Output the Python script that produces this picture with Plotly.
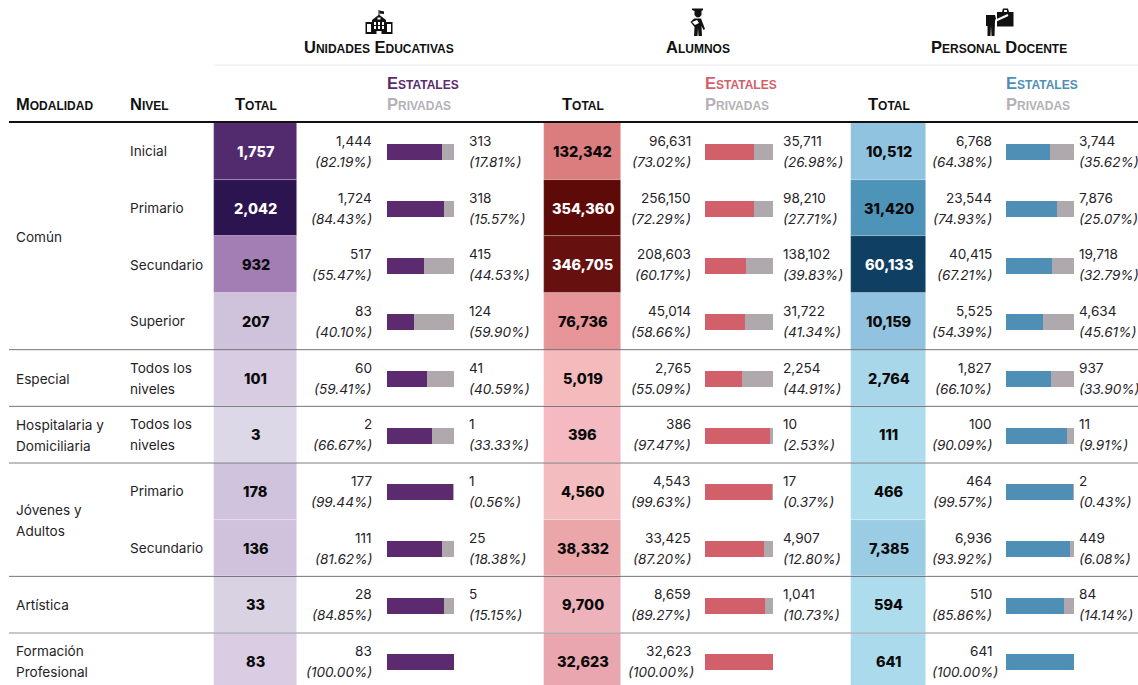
import plotly.graph_objects as go

modalidad = [("Común", 0, 4), ("Especial", 4, 5), ("Hospitalaria y<br>Domiciliaria", 5, 6),
             ("Jóvenes y<br>Adultos", 6, 8), ("Artística", 8, 9), ("Formación<br>Profesional", 9, 10)]
nivel = ["Inicial", "Primario", "Secundario", "Superior", "Todos los<br>niveles", "Todos los<br>niveles",
         "Primario", "Secundario", "", ""]

ue_total = [1757, 2042, 932, 207, 101, 3, 178, 136, 33, 83]
ue_est = [1444, 1724, 517, 83, 60, 2, 177, 111, 28, 83]
ue_est_pct = [82.19, 84.43, 55.47, 40.10, 59.41, 66.67, 99.44, 81.62, 84.85, 100.00]
ue_priv = [313, 318, 415, 124, 41, 1, 1, 25, 5, None]
ue_priv_pct = [17.81, 15.57, 44.53, 59.90, 40.59, 33.33, 0.56, 18.38, 15.15, None]

al_total = [132342, 354360, 346705, 76736, 5019, 396, 4560, 38332, 9700, 32623]
al_est = [96631, 256150, 208603, 45014, 2765, 386, 4543, 33425, 8659, 32623]
al_est_pct = [73.02, 72.29, 60.17, 58.66, 55.09, 97.47, 99.63, 87.20, 89.27, 100.00]
al_priv = [35711, 98210, 138102, 31722, 2254, 10, 17, 4907, 1041, None]
al_priv_pct = [26.98, 27.71, 39.83, 41.34, 44.91, 2.53, 0.37, 12.80, 10.73, None]

pd_total = [10512, 31420, 60133, 10159, 2764, 111, 466, 7385, 594, 641]
pd_est = [6768, 23544, 40415, 5525, 1827, 100, 464, 6936, 510, 641]
pd_est_pct = [64.38, 74.93, 67.21, 54.39, 66.10, 90.09, 99.57, 93.92, 85.86, 100.00]
pd_priv = [3744, 7876, 19718, 4634, 937, 11, 2, 449, 84, None]
pd_priv_pct = [35.62, 25.07, 32.79, 45.61, 33.90, 9.91, 0.43, 6.08, 14.14, None]

ue_cell = ["#522A6E", "#2B1450", "#A27EB4", "#CFC3DB", "#D8CCE3", "#DDD8E8", "#CFC3DD", "#D0C2DC", "#D8D2E3", "#D9CCE3"]
al_cell = ["#DB7C7F", "#5E0A08", "#66100F", "#E89599", "#F4BABC", "#F4B9C1", "#F3BCBF", "#EBA6AA", "#EEB2BB", "#E9A6AE"]
pd_cell = ["#90C3DF", "#4E93B8", "#0F3F62", "#91C2DF", "#A9D7EA", "#ADDCED", "#ADDCED", "#9ACDE3", "#ADDCED", "#AADAEC"]
PRIV = "#AFA8AD"

groups = [
    dict(title="Unidades Educativas", title_x=379, cell_x=214, cell_w=83, num_r=372, full_r=372, bar_x=387, bar_w=67,
         priv_x=469, total=ue_total, est=ue_est, est_pct=ue_est_pct, priv=ue_priv, priv_pct=ue_priv_pct,
         cells=ue_cell, color="#5C2A6F", dark_from=1700),
    dict(title="Alumnos", title_x=698, cell_x=544, cell_w=77, num_r=691, full_r=693.5, bar_x=705, bar_w=67.5,
         priv_x=782.5, total=al_total, est=al_est, est_pct=al_est_pct, priv=al_priv, priv_pct=al_priv_pct,
         cells=al_cell, color="#D2606B", dark_from=300000),
    dict(title="Personal Docente", title_x=999, cell_x=851, cell_w=75, num_r=992, full_r=997.5, bar_x=1006, bar_w=68,
         priv_x=1079, total=pd_total, est=pd_est, est_pct=pd_est_pct, priv=pd_priv, priv_pct=pd_priv_pct,
         cells=pd_cell, color="#4F8FB5", dark_from=50000),
]

TOP, ROW_H, BAR_H = 123.0, 56.67, 16
n = len(nivel)
centers = [TOP + ROW_H * (i + 0.5) for i in range(n)]
BODY = "Inter"
HEAD = "Liberation Sans"
INK = "#1f2328"
BODY_SIZE = 13.6
HEAD_SIZE = 16.5

fig = go.Figure()
ann = []


def text(x, y, s, anchor="left", size=BODY_SIZE, color=INK, family=BODY, weight=400, style="normal", variant="normal"):
    ann.append(dict(x=x, y=y, xref="x", yref="y", text=s, showarrow=False, xanchor=anchor, yanchor="middle",
                    align=anchor, borderpad=0, borderwidth=0,
                    font=dict(size=size, color=color, family=family, weight=weight, style=style, variant=variant)))


def head(x, y, s, anchor="left", color="#111"):
    text(x, y, s, anchor, HEAD_SIZE, color, HEAD, 700, variant="small-caps")


def two_lines(x, y, s):
    parts = s.split("<br>")
    if len(parts) == 1:
        text(x, y, s)
    else:
        text(x, y - 10.5, parts[0])
        text(x, y + 10.5, parts[1])


for g in groups:
    fig.add_bar(orientation="h", y=centers, x=[g["cell_w"]] * n, base=g["cell_x"], width=ROW_H,
                marker=dict(color=g["cells"], line=dict(color="rgba(255,255,255,0.35)", width=0.7)), hoverinfo="skip")
    est_len = [p * g["bar_w"] / 100 for p in g["est_pct"]]
    fig.add_bar(orientation="h", y=[c + 1 for c in centers], x=est_len, base=g["bar_x"], width=BAR_H,
                marker=dict(color=g["color"], line=dict(width=0)), hoverinfo="skip")
    priv_len = [(p or 0) * g["bar_w"] / 100 for p in g["priv_pct"]]
    fig.add_bar(orientation="h", y=[c + 1 for c in centers], x=priv_len,
                base=[g["bar_x"] + e for e in est_len], width=BAR_H,
                marker=dict(color=PRIV, line=dict(width=0)), hoverinfo="skip")

    mid = g["cell_x"] + g["cell_w"] / 2
    head(mid, 103.5, "Total", "center")
    head(g["title_x"], 47, g["title"], "center")
    head(g["bar_x"], 82.5, "Estatales", "left", g["color"])
    head(g["bar_x"], 103.5, "Privadas", "left", "#B5B0B6")

    for i in range(n):
        c = centers[i]
        dark = g["total"][i] >= g["dark_from"]
        text(mid, c, f"{g['total'][i]:,}", "center", 14.5, "#fff" if dark else "#0a0a0a", BODY, 800)
        text(g["num_r"], c - 10.5, f"{g['est'][i]:,}", "right")
        pct_r = g["full_r"] if g["est_pct"][i] >= 100 else g["num_r"]
        text(pct_r, c + 10.5, f"({g['est_pct'][i]:.2f}%)", "right", style="italic")
        if g["priv"][i] is not None:
            text(g["priv_x"], c - 10.5, f"{g['priv'][i]:,}", "left")
            text(g["priv_x"], c + 10.5, f"({g['priv_pct'][i]:.2f}%)", "left", style="italic")

head(16, 103.5, "Modalidad")
head(130, 103.5, "Nivel")

for name, a, b in modalidad:
    two_lines(16, (centers[a] + centers[b - 1]) / 2 + 0.5, name)
for i, s in enumerate(nivel):
    if s:
        two_lines(130, centers[i], s)

shapes = [
    dict(type="line", x0=214, x1=1138, y0=65, y1=65, line=dict(color="#E6EAF0", width=1), layer="above"),
    dict(type="line", x0=9, x1=1138, y0=122, y1=122, line=dict(color="#111111", width=2), layer="above"),
]
sep_styles = [("rgba(70,70,75,0.75)", 1), ("rgba(70,70,75,0.75)", 1), ("rgba(110,110,115,0.6)", 1.5),
              ("rgba(70,70,75,0.75)", 1), ("rgba(170,170,175,0.65)", 2)]
for (_, a, b), (sep_color, sep_w) in zip(modalidad[1:], sep_styles):
    y = TOP + ROW_H * a
    shapes.append(dict(type="line", x0=9, x1=1138, y0=y, y1=y, line=dict(color=sep_color, width=sep_w), layer="above"))


def icon(path, color="#111111"):
    shapes.append(dict(type="path", path=path, fillcolor=color, line=dict(width=0), layer="above"))


def white_rect(x0, x1, y0, y1):
    shapes.append(dict(type="rect", x0=x0, x1=x1, y0=y0, y1=y1, fillcolor="#ffffff", line=dict(width=0), layer="above"))


# school icon
icon("M378.5 10 L379.5 10 L379.5 15 L386 20 L386 22 L392.5 22 L392.5 34 L365.5 34 L365.5 22 L372 22 L372 20 L378.5 15 Z")
icon("M379.5 10.5 L384 11.5 L384 14 L379.5 13.5 Z")
for r in [(367, 371, 24, 32), (387, 391, 24, 32), (374, 376, 22, 25), (378, 380, 22, 25), (382, 384, 22, 25),
          (374, 376, 26, 29), (378, 380, 26, 29), (382, 384, 26, 29), (376.5, 381.5, 31, 34), (377.5, 380.5, 17.5, 19.5)]:
    white_rect(*r)
# student icon
icon("M692 8.5 L703 8.5 L703 10 L701.5 11 L701.5 15 Q698 20 694.5 15 L694.5 11 L692 10 Z")
icon("M694 18.5 L701 18.5 L705 29 L703.5 30 L701.5 26 L702 36 L698.5 36 L698 28 L697.5 36 L694 36 L694.5 27 L690.5 22 Z")
icon("M692 22 L697 20 L699 23 L695 25 Z", "#ffffff")
# teacher icon
icon("M990.5 8.5 A2.9 2.9 0 1 1 990.4 8.5 Z")
icon("M986 15 L995 15 L996 18.5 L995 21 L994.5 36 L991.5 36 L991 26 L990.5 36 L987.5 36 L987.5 26 L986 26 Z")
icon("M997 12 L1002 12 L1003 8.5 L1008 8.5 L1009 12 L1013.5 12 L1013.5 26.5 L997 26.5 Z")
white_rect(1004, 1007, 10, 12)
shapes.append(dict(type="line", x0=996, y0=20.5, x1=1008, y1=15, line=dict(color="#ffffff", width=2), layer="above"))

fig.update_layout(
    width=1138, height=685, autosize=False,
    margin=dict(l=0, r=0, t=0, b=0),
    paper_bgcolor="#ffffff", plot_bgcolor="#ffffff",
    barmode="overlay", bargap=0, showlegend=False,
    xaxis=dict(range=[0, 1138], visible=False, fixedrange=True),
    yaxis=dict(range=[685, 0], visible=False, fixedrange=True),
    annotations=ann, shapes=shapes,
)
fig.write_html("out.html", config={"displayModeBar": False}, include_plotlyjs=True,
               post_script="document.body.style.margin='0';document.documentElement.style.overflow='hidden';")
